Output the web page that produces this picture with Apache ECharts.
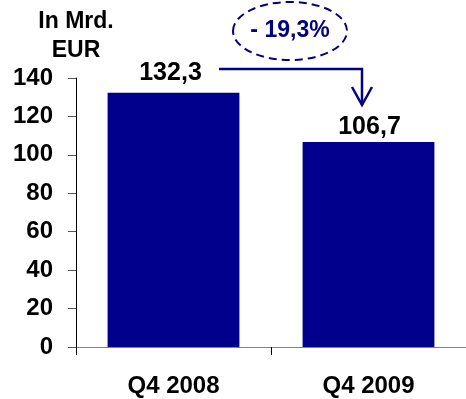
<!DOCTYPE html>
<html>
<head>
<meta charset="utf-8">
<script src="https://cdn.jsdelivr.net/npm/echarts@6/dist/echarts.min.js"></script>
<style>
  html, body { margin: 0; padding: 0; background: #fff; }
  #chart { width: 466px; height: 399px; }
</style>
</head>
<body>
<div id="chart"></div>
<script>
// Quarterly volume, in billions of EUR
const categories = ['Q4 2008', 'Q4 2009'];
const values = [132.3, 106.7];
const changeLabel = '- 19,3%';
const unitLabel = 'In Mrd.\nEUR';

const FONT = 'Arial, "Liberation Sans", Helvetica, sans-serif';
const NAVY = '#00008C';
const fmt = v => v.toFixed(1).replace('.', ',');

const chart = echarts.init(document.getElementById('chart'), null, { renderer: 'canvas' });

// per-bar label placement (distance above the bar top, horizontal nudge)
const labelDist = [7, 2];
const labelDx = [-3, 1];

chart.setOption({
  animation: false,
  backgroundColor: '#ffffff',
  grid: { left: 76, right: -4, top: 78, bottom: 52 },
  xAxis: {
    type: 'category',
    data: categories,
    boundaryGap: true,
    axisLine: { show: true, lineStyle: { color: '#808080', width: 1 } },
    axisTick: { show: true, length: 8, lineStyle: { color: '#000', width: 1 } },
    axisLabel: {
      margin: 27,
      fontFamily: FONT, fontWeight: 'bold', fontSize: 24, color: '#000'
    }
  },
  yAxis: {
    type: 'value',
    min: 0, max: 140, interval: 20,
    name: unitLabel,
    nameLocation: 'end',
    nameGap: 13,
    nameTextStyle: {
      fontFamily: FONT, fontWeight: 'bold', fontSize: 23, color: '#000',
      lineHeight: 29, align: 'center'
    },
    axisLine: { show: true, lineStyle: { color: '#000', width: 1 } },
    axisTick: { show: true, length: 8, lineStyle: { color: '#555', width: 1 } },
    splitLine: { show: false },
    axisLabel: {
      margin: 23,
      fontFamily: FONT, fontWeight: 'bold', fontSize: 24, color: '#000'
    }
  },
  series: [{
    type: 'bar',
    barCategoryGap: '32.4%',
    itemStyle: { color: NAVY },
    data: values.map((v, i) => ({
      value: v,
      label: { distance: labelDist[i], offset: [labelDx[i], 0] }
    })),
    label: {
      show: true,
      position: 'top',
      formatter: p => fmt(p.value),
      fontFamily: FONT, fontWeight: 'bold', fontSize: 25, color: '#000'
    }
  }],
  graphic: [
    // dashed ellipse with the percentage change
    {
      type: 'ellipse',
      shape: { cx: 290, cy: 31, rx: 57, ry: 29 },
      style: { fill: 'none', stroke: '#000080', lineWidth: 2, lineDash: [8, 5] },
      z: 10
    },
    {
      type: 'text',
      x: 290, y: 31,
      style: {
        text: changeLabel,
        fill: '#000080',
        font: 'bold 23px ' + FONT,
        textAlign: 'center', textVerticalAlign: 'middle'
      },
      z: 11
    },
    // elbow arrow from the first bar down to the second
    {
      type: 'polyline',
      shape: { points: [[219, 69], [362, 69], [362, 105]] },
      style: { fill: 'none', stroke: '#000080', lineWidth: 2.5 },
      z: 10
    },
    {
      type: 'polyline',
      shape: { points: [[352, 87], [362, 105], [372, 87]] },
      style: { fill: 'none', stroke: '#000080', lineWidth: 2.5 },
      z: 10
    }
  ]
});
</script>
</body>
</html>
